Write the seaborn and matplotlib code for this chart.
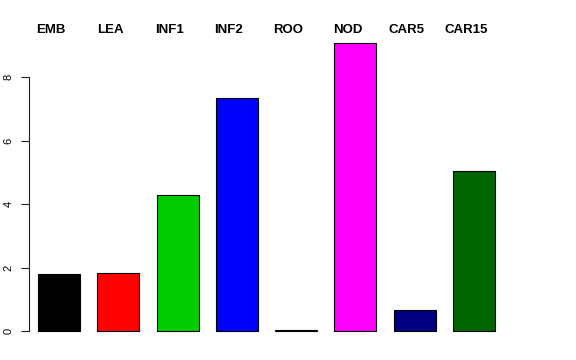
import matplotlib
matplotlib.use("Agg")
import matplotlib.pyplot as plt
import pandas as pd
import seaborn as sns

TISSUES = ["EMB", "LEA", "INF1", "INF2", "ROO", "NOD", "CAR5", "CAR15"]
VALUES = [1.80, 1.83, 4.28, 7.34, 0.02, 9.07, 0.66, 5.04]
COLORS = ["#000000", "#FF0000", "#00CD00", "#0000FF", "#BEBEBE",
          "#FF00FF", "#000080", "#006400"]

sns.set_style("white")
plt.rcParams["font.family"] = ["Liberation Sans", "DejaVu Sans"]
plt.rcParams["text.color"] = "black"

df = pd.DataFrame({"tissue": TISSUES, "value": VALUES})

fig = plt.figure(figsize=(5.76, 3.6), dpi=100)
ax = fig.add_axes([0.0503, 0.0528, 0.9045, 0.8417])
sns.barplot(
    data=df, x="tissue", y="value", hue="tissue", order=TISSUES,
    palette=COLORS, saturation=1, width=0.708, edgecolor="black",
    linewidth=0.8, legend=False, ax=ax,
)

ax.set_xlim(-0.506, 8.28)
ax.set_ylim(-0.315, 9.23)
for side in ["top", "right", "bottom"]:
    ax.spines[side].set_visible(False)
ax.spines["left"].set_bounds(0, 8)
ax.spines["left"].set_color("#222222")
ax.spines["left"].set_linewidth(0.8)

ax.set_yticks([0, 2, 4, 6, 8])
ax.set_yticklabels(["0", "2", "4", "6", "8"], rotation=90, va="center", fontsize=8)
ax.tick_params(axis="y", left=True, length=6, width=0.8, pad=5, color="#222222",
               labelcolor="black")

# tissue names sit above the plot, nudged a little left of each bar
ax.set_xticks([])
ax.set_xlabel("")
ax.set_ylabel("")
for i, name in enumerate(TISSUES):
    ax.text(i - 0.135, 1.0 + 8 / 303, name, transform=ax.get_xaxis_transform(),
            ha="center", va="center", fontsize=9.5, fontweight="bold", color="black")

fig.savefig("out.png", dpi=100)
